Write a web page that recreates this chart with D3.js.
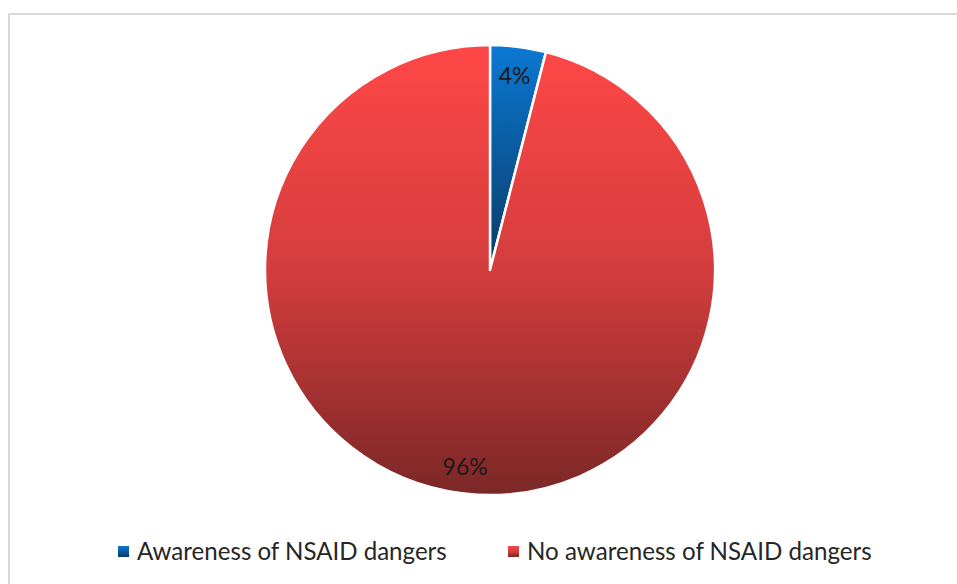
<!DOCTYPE html>
<html>
<head>
<meta charset="utf-8">
<script src="https://cdn.jsdelivr.net/npm/d3@7"></script>
<style>
  body { margin: 0; background: #fff; }
  text { font-family: Lato, "Open Sans", sans-serif; }
</style>
</head>
<body>
<div id="chart"></div>
<script>
var categories = ["Awareness of NSAID dangers", "No awareness of NSAID dangers"];
var values = [4, 96];
var valueLabels = ["4%", "96%"];

var svgWidth = 957;
var svgHeight = 584;

var svg = d3.select("#chart")
  .append("svg")
  .attr("width", svgWidth)
  .attr("height", svgHeight);

// chart frame
svg.append("rect")
  .attr("x", 9).attr("y", 14)
  .attr("width", 960).attr("height", 600)
  .attr("fill", "none")
  .attr("stroke", "#d9d9d9")
  .attr("stroke-width", 2);

var cx = 490, cy = 270, radius = 225;

// gradients for the two slices (in the pie group's own coordinates)
var defs = svg.append("defs");
var gradStops = [
  [["0%", "#0b78d2"], ["100%", "#0a3a66"]],
  [["0%", "#ff4747"], ["50%", "#d43d3d"], ["100%", "#7b2727"]]
];
var gradRange = [[-radius, 0], [-radius, radius]];
gradStops.forEach(function(stops, i) {
  var g = defs.append("linearGradient")
    .attr("id", "grad" + i)
    .attr("gradientUnits", "userSpaceOnUse")
    .attr("x1", 0).attr("x2", 0)
    .attr("y1", gradRange[i][0]).attr("y2", gradRange[i][1]);
  stops.forEach(function(s) {
    g.append("stop").attr("offset", s[0]).attr("stop-color", s[1]);
  });
});
// legend swatch gradients
gradStops.forEach(function(stops, i) {
  var g = defs.append("linearGradient")
    .attr("id", "lgrad" + i)
    .attr("x1", 0).attr("x2", 0).attr("y1", 0).attr("y2", 1);
  stops.forEach(function(s) {
    g.append("stop").attr("offset", s[0]).attr("stop-color", s[1]);
  });
});

var pie = d3.pie().sort(null).value(d => d);
var arcs = pie(values);
var arc = d3.arc().innerRadius(0).outerRadius(radius);

var pieGroup = svg.append("g")
  .attr("transform", `translate(${cx}, ${cy})`);

pieGroup.selectAll("path.slice")
  .data(arcs)
  .enter()
  .append("path")
  .attr("class", "slice")
  .attr("d", arc)
  .attr("fill", (d, i) => `url(#grad${i})`)
  .attr("stroke", "#fff")
  .attr("stroke-width", 2.5)
  .attr("stroke-linejoin", "round");

// value labels
var labelArc = [
  d3.arc().innerRadius(radius * 0.87).outerRadius(radius * 0.87),
  d3.arc().innerRadius(radius * 0.88).outerRadius(radius * 0.88)
];
pieGroup.selectAll("text.vlabel")
  .data(arcs)
  .enter()
  .append("text")
  .attr("class", "vlabel")
  .attr("transform", (d, i) => `translate(${labelArc[i].centroid(d)})`)
  .attr("text-anchor", "middle")
  .attr("dy", "0.35em")
  .attr("font-size", 23)
  .attr("fill", "#1a1a1a")
  .text((d, i) => valueLabels[i]);

// legend
var legendX = [118, 508];
var legendTextWidth = [310, 345];
var legend = svg.selectAll("g.legend")
  .data(categories)
  .enter()
  .append("g")
  .attr("class", "legend")
  .attr("transform", (d, i) => `translate(${legendX[i]}, 551.5)`);

legend.append("rect")
  .attr("x", 0).attr("y", -5.5)
  .attr("width", 11).attr("height", 11)
  .attr("fill", (d, i) => `url(#lgrad${i})`);

legend.append("text")
  .attr("x", 19)
  .attr("dy", "0.35em")
  .attr("font-size", 20)
  .attr("fill", "#262626")
  .text(d => d)
  .each(function(d, i) {
    // scale the font so the label spans the same width as the original
    var w = this.getComputedTextLength();
    d3.select(this).attr("font-size", 20 * legendTextWidth[i] / w);
  });
</script>
</body>
</html>
